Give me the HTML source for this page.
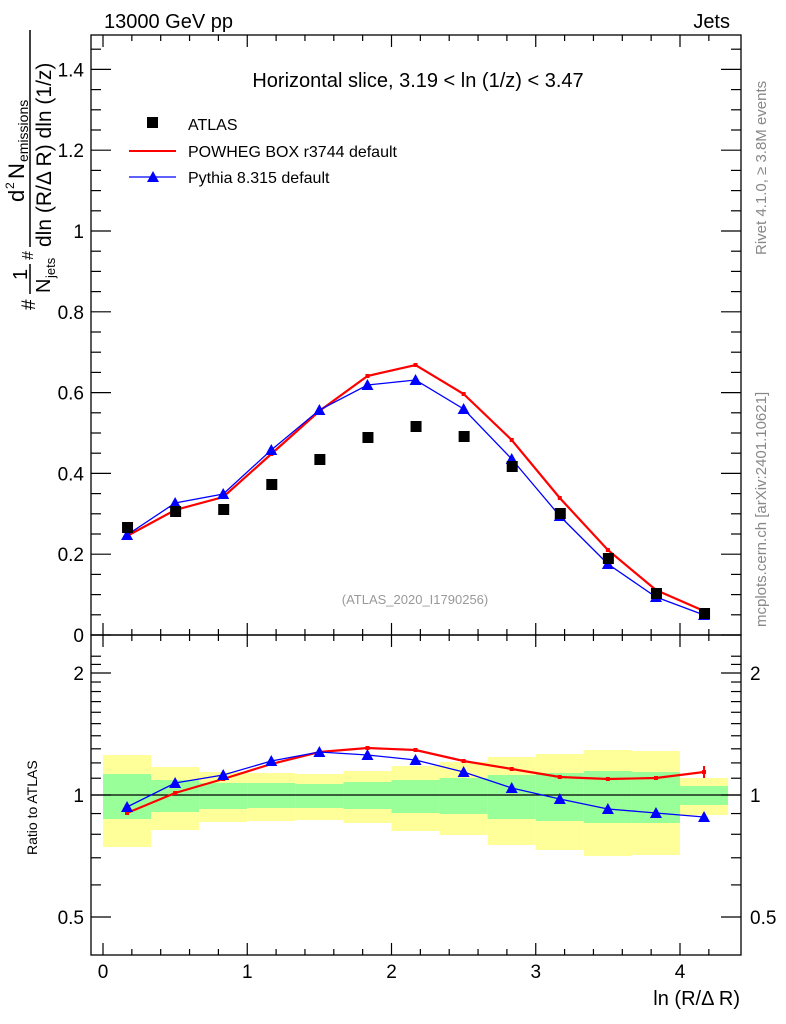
<!DOCTYPE html><html><head><style>body{margin:0;background:#fff}svg{display:block;font-family:"Liberation Sans",sans-serif}</style></head><body>
<svg width="786" height="1024" viewBox="0 0 786 1024" xmlns="http://www.w3.org/2000/svg">
<rect width="786" height="1024" fill="#fff"/>
<text x="104" y="28" font-size="20">13000 GeV pp</text>
<text x="730" y="28" font-size="20" text-anchor="end">Jets</text>
<g id="bands"></g>
<line x1="91" y1="795" x2="741" y2="795" stroke="#000" stroke-width="1.3"/>
<g id="axes" stroke="#000" fill="none"></g>
<rect x="91" y="35" width="650" height="600" fill="none" stroke="#000" stroke-width="1.3"/>
<rect x="91" y="635" width="650" height="320" fill="none" stroke="#000" stroke-width="1.3"/>
<g id="labels" font-size="19"></g>
<text x="418" y="87" font-size="20" text-anchor="middle">Horizontal slice, 3.19 &lt; ln (1/z) &lt; 3.47</text>
<rect x="147" y="117" width="11" height="11" fill="#000"/>
<text x="188" y="130" font-size="16">ATLAS</text>
<line x1="129" y1="151" x2="176" y2="151" stroke="#f00" stroke-width="2"/>
<text x="188" y="157" font-size="16">POWHEG BOX r3744 default</text>
<line x1="129" y1="177" x2="176" y2="177" stroke="#00f" stroke-width="1.3"/>
<polygon points="153,171 147,182 159,182" fill="#00f"/>
<text x="188" y="183" font-size="16">Pythia 8.315 default</text>
<text x="415" y="604" font-size="13" fill="#999" text-anchor="middle">(ATLAS_2020_I1790256)</text>
<text transform="translate(766,627) rotate(-90)" font-size="15" fill="#888">mcplots.cern.ch [arXiv:2401.10621]</text>
<text transform="translate(766,255) rotate(-90)" font-size="15" fill="#888">Rivet 4.1.0, ≥ 3.8M events</text>
<text x="740" y="1005" font-size="20" text-anchor="end">ln (R/Δ R)</text>
<text transform="translate(37,855) rotate(-90)" font-size="14">Ratio to ATLAS</text>
<g transform="translate(44,310) rotate(-90)" font-size="21">
<text x="0" y="-9" font-size="19">#</text>
<text x="30" y="-17" font-size="20">1</text>
<line x1="16" y1="-14" x2="46" y2="-14" stroke="#000" stroke-width="1.5"/>
<text x="17" y="6" font-size="20">N</text><text x="32" y="11" font-size="13">jets</text>
<text x="50" y="-11" font-size="16">#</text>
<line x1="63" y1="-14" x2="280" y2="-14" stroke="#000" stroke-width="1.5"/>
<text x="108" y="-20" font-size="22">d</text><text x="121" y="-30" font-size="12">2</text><text x="131" y="-20" font-size="22">N</text><text x="148" y="-16" font-size="14">emissions</text>
<text x="63" y="7">dln (R/Δ R) dln (1/z)</text>
</g>
<g id="data"></g>
<script>
const NS="http://www.w3.org/2000/svg";
function el(p,t,a){const e=document.createElementNS(NS,t);for(const k in a)e.setAttribute(k,a[k]);document.getElementById(p).appendChild(e);return e}
const X=v=>103+144.25*v;
const band=[[755,847,774,819],[767,830,780,812],[772,822,783,809],[773,821,783,808],[774,820,784,808],[771,823,782,809],[766,831,780,813],[762,835,778,814],[757,845,775,819],[754,850,773,821],[750,856,771,823],[751,855,772,823],[778,815,786,805]];
band.forEach((b,i)=>{const x0=X(i/3),x1=X((i+1)/3);el("bands","rect",{x:x0,y:b[0],width:x1-x0,height:b[1]-b[0],fill:"#ffff99"});el("bands","rect",{x:x0,y:b[2],width:x1-x0,height:b[3]-b[2],fill:"#99ff99"});});
for(let v=0;v<=4.3;v+=0.2){const x=X(v);const maj=Math.abs(v-Math.round(v))<0.01;const L=maj?12:6;
[[35,1],[635,-1],[635,1],[955,-1]].forEach(([y,d])=>el("axes","line",{x1:x,y1:y,x2:x,y2:y+d*L,"stroke-width":1.2}));}
for(let i=0;i<=29;i++){const v=i*0.05,y=635-404*v;if(y<36)break;const maj=i%4==0;const L=maj?20:10;
el("axes","line",{x1:91,y1:y,x2:91+L,y2:y,"stroke-width":1.2});el("axes","line",{x1:741,y1:y,x2:741-L,y2:y,"stroke-width":1.2});
if(maj)el("labels","text",{x:84,y:y+7,"text-anchor":"end"}).textContent=(v==0?"0":(+v.toFixed(1)).toString());}
const RY=r=>795-405.3*Math.log10(r);
for(let r=0.5;r<=2.25;r+=0.1){const y=RY(r);if(y<636||y>954)continue;const maj=[0.5,1,2].some(m=>Math.abs(m-r)<0.01);const L=maj?20:10;
el("axes","line",{x1:91,y1:y,x2:91+L,y2:y,"stroke-width":1.2});el("axes","line",{x1:741,y1:y,x2:741-L,y2:y,"stroke-width":1.2});
if(maj){const t=Math.abs(r-0.5)<0.01?"0.5":Math.round(r).toString();el("labels","text",{x:84,y:y+7,"text-anchor":"end"}).textContent=t;el("labels","text",{x:750,y:y+7}).textContent=t;}}
for(let v=0;v<=4;v++)el("labels","text",{x:X(v),y:978,"text-anchor":"middle"}).textContent=v;
const xs=[...Array(13)].map((_,i)=>X((i+0.5)/3));
const atl=[527,511,509,484,459,437,426,436,466,513,558,593,613];
const pow=[536,510,497,454,411,376,365,394,440,498,550,590,611];
const pyt=[535,503,494,450,410,385,380,409,459,516,564,597,615];
const rp=[813,793,779,764,752,748,750,761,769,777,779,778,772];
const ry=[807,783,775,761,752,755,760,772,788,799,809,813,817];
function line(ys,c,w){el("data","polyline",{points:xs.map((x,i)=>x+","+ys[i]).join(" "),fill:"none",stroke:c,"stroke-width":w});}
function tri(ys){ys.forEach((y,i)=>el("data","polygon",{points:`${xs[i]},${y-6} ${xs[i]-6},${y+5} ${xs[i]+6},${y+5}`,fill:"#00f"}));}
function sq(ys){ys.forEach((y,i)=>el("data","rect",{x:xs[i]-5,y:y-5,width:11,height:11,fill:"#000"}));}
function dots(ys){ys.forEach((y,i)=>el("data","rect",{x:xs[i]-2,y:y-2,width:4,height:4,fill:"#f00"}));}
line(pow,"#f00",2.2);dots(pow);line(pyt,"#00f",1.3);tri(pyt);
sq(atl);
line(rp,"#f00",2.2);dots(rp);line(ry,"#00f",1.3);tri(ry);
el("data","line",{x1:xs[12],y1:766,x2:xs[12],y2:778,stroke:"#f00","stroke-width":2});
</script>
</svg></body></html>
